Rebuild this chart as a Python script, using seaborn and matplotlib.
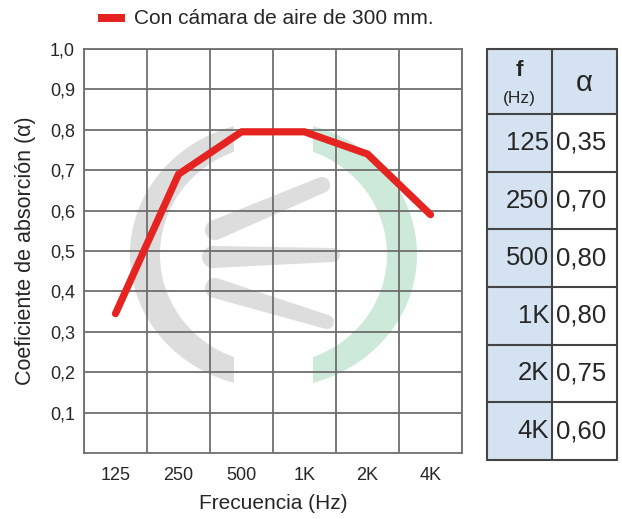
import numpy as np
import pandas as pd
import matplotlib
matplotlib.use("Agg")
import matplotlib.pyplot as plt
import seaborn as sns
from matplotlib.patches import Rectangle, PathPatch, Polygon
from matplotlib.path import Path

# data
freq_labels = ["125", "250", "500", "1K", "2K", "4K"]
curve_alpha = [0.345, 0.69, 0.795, 0.795, 0.74, 0.59]
table_alpha = [0.35, 0.70, 0.80, 0.80, 0.75, 0.60]
y_ticks = [0.1, 0.2, 0.3, 0.4, 0.5, 0.6, 0.7, 0.8, 0.9, 1.0]
series_name = "Con cámara de aire de 300 mm."

RED = "#e52421"
GRID = "#6e6e6e"
BLUE = "#d5e2f1"
LOGO_GRAY = "#dddddd"
LOGO_GREEN = "#cde9d9"
FONT = ["Liberation Sans", "DejaVu Sans"]

sns.set_style("white")
plt.rcParams["font.family"] = FONT

W, H = 622, 519
fig = plt.figure(figsize=(W / 100, H / 100), dpi=100)

# background layer in pixel coords (watermark + table + legend)
bg = fig.add_axes([0, 0, 1, 1], zorder=0)
bg.set_xlim(0, W)
bg.set_ylim(H, 0)
bg.axis("off")


def ring_patch(cx, cy, ao, bo, ai, bi, color):
    t = np.linspace(0, 2 * np.pi, 200)
    outer = np.column_stack([cx + ao * np.cos(t), cy + bo * np.sin(t)])
    inner = np.column_stack([cx + ai * np.cos(t[::-1]), cy + bi * np.sin(t[::-1])])
    verts = np.vstack([outer, inner])
    codes = np.full(len(verts), Path.LINETO)
    codes[0] = Path.MOVETO
    codes[len(outer)] = Path.MOVETO
    return PathPatch(Path(verts, codes), color=color, lw=0)


def blob(p0, r0, p1, r1, color):
    p0, p1 = np.array(p0, float), np.array(p1, float)
    d = p1 - p0
    ang = np.arctan2(d[1], d[0])
    a1 = np.linspace(ang + np.pi / 2, ang + 3 * np.pi / 2, 30)
    a2 = np.linspace(ang - np.pi / 2, ang + np.pi / 2, 30)
    pts = np.vstack([p0 + r0 * np.column_stack([np.cos(a1), np.sin(a1)]),
                     p1 + r1 * np.column_stack([np.cos(a2), np.sin(a2)])])
    return Polygon(pts, closed=True, color=color, lw=0)


# watermark logo
for color, clip in [(LOGO_GRAY, (0, 234)), (LOGO_GREEN, (313, W))]:
    ring = bg.add_patch(ring_patch(273.5, 254.5, 143.5, 133.5, 113.5, 109.5, color))
    ring.set_clip_path(Rectangle((clip[0], 0), clip[1] - clip[0], H, transform=bg.transData))
bg.add_patch(blob((215, 230), 10, (322, 185), 8, LOGO_GRAY))
bg.add_patch(blob((213, 257), 11, (333, 255), 7, LOGO_GRAY))
bg.add_patch(blob((215, 288), 10, (327, 322), 7, LOGO_GRAY))

# table
tx = [487, 552, 617]
ty = [49, 114] + [114 + (460 - 114) * (i + 1) / 6 for i in range(6)]
bg.add_patch(Rectangle((tx[0], ty[0]), tx[1] - tx[0], ty[-1] - ty[0], color=BLUE, lw=0))
bg.add_patch(Rectangle((tx[1], ty[0]), tx[2] - tx[1], ty[1] - ty[0], color=BLUE, lw=0))
for x in tx:
    bg.plot([x, x], [ty[0], ty[-1]], color="#444444", lw=1.5)
for y in ty:
    bg.plot([tx[0], tx[2]], [y, y], color="#444444", lw=1.5)
bg.text((tx[0] + tx[1]) / 2, 71, "f", ha="center", va="center", fontsize=16, fontweight="bold")
bg.text((tx[0] + tx[1]) / 2, 99, "(Hz)", ha="center", va="center", fontsize=12.5)
bg.text((tx[1] + tx[2]) / 2, 83, "α", ha="center", va="center", fontsize=21)
for i, (lab, val) in enumerate(zip(freq_labels, table_alpha)):
    yc = (ty[i + 1] + ty[i + 2]) / 2
    bg.text(tx[1] - 3, yc, lab, ha="right", va="center", fontsize=18.5)
    bg.text(tx[1] + 4, yc, f"{val:.2f}".replace(".", ","), ha="left", va="center", fontsize=18.5)

# legend
bg.add_patch(Rectangle((98, 14), 27, 8, color=RED, lw=0))
bg.text(134, 18.5, series_name, ha="left", va="center", fontsize=15)

# main chart
ax = fig.add_axes([84 / W, 1 - 453 / H, (462 - 84) / W, (453 - 49) / H], zorder=1)
ax.patch.set_alpha(0)
df = pd.DataFrame({"freq": freq_labels, "alpha": curve_alpha})
sns.lineplot(data=df, x="freq", y="alpha", sort=False, color=RED, lw=5.2,
             solid_capstyle="round", solid_joinstyle="round", ax=ax, zorder=3)
ax.set_xlim(-0.5, len(freq_labels) - 0.5)
ax.set_ylim(0, 1.0)
ax.set_yticks(y_ticks)
ax.set_yticklabels([f"{v:.1f}".replace(".", ",") for v in y_ticks], fontsize=13)
ax.set_xticks(range(len(freq_labels)))
ax.set_xticklabels(freq_labels, fontsize=13)
ax.set_xticks(np.arange(-0.5, len(freq_labels)), minor=True)
ax.grid(False)
ax.grid(True, which="minor", axis="x", color=GRID, lw=1.3)
ax.grid(True, which="major", axis="y", color=GRID, lw=1.3)
ax.tick_params(axis="y", which="both", length=0, pad=6.5)
ax.tick_params(axis="x", which="both", length=0, pad=10)
for s in ax.spines.values():
    s.set_color(GRID)
    s.set_linewidth(1.3)
ax.set_xlabel("Frecuencia (Hz)", fontsize=15, labelpad=7)
ax.set_ylabel("Coeficiente de absorción (α)", fontsize=15.5, labelpad=10)

fig.savefig("out.png", dpi=100)
